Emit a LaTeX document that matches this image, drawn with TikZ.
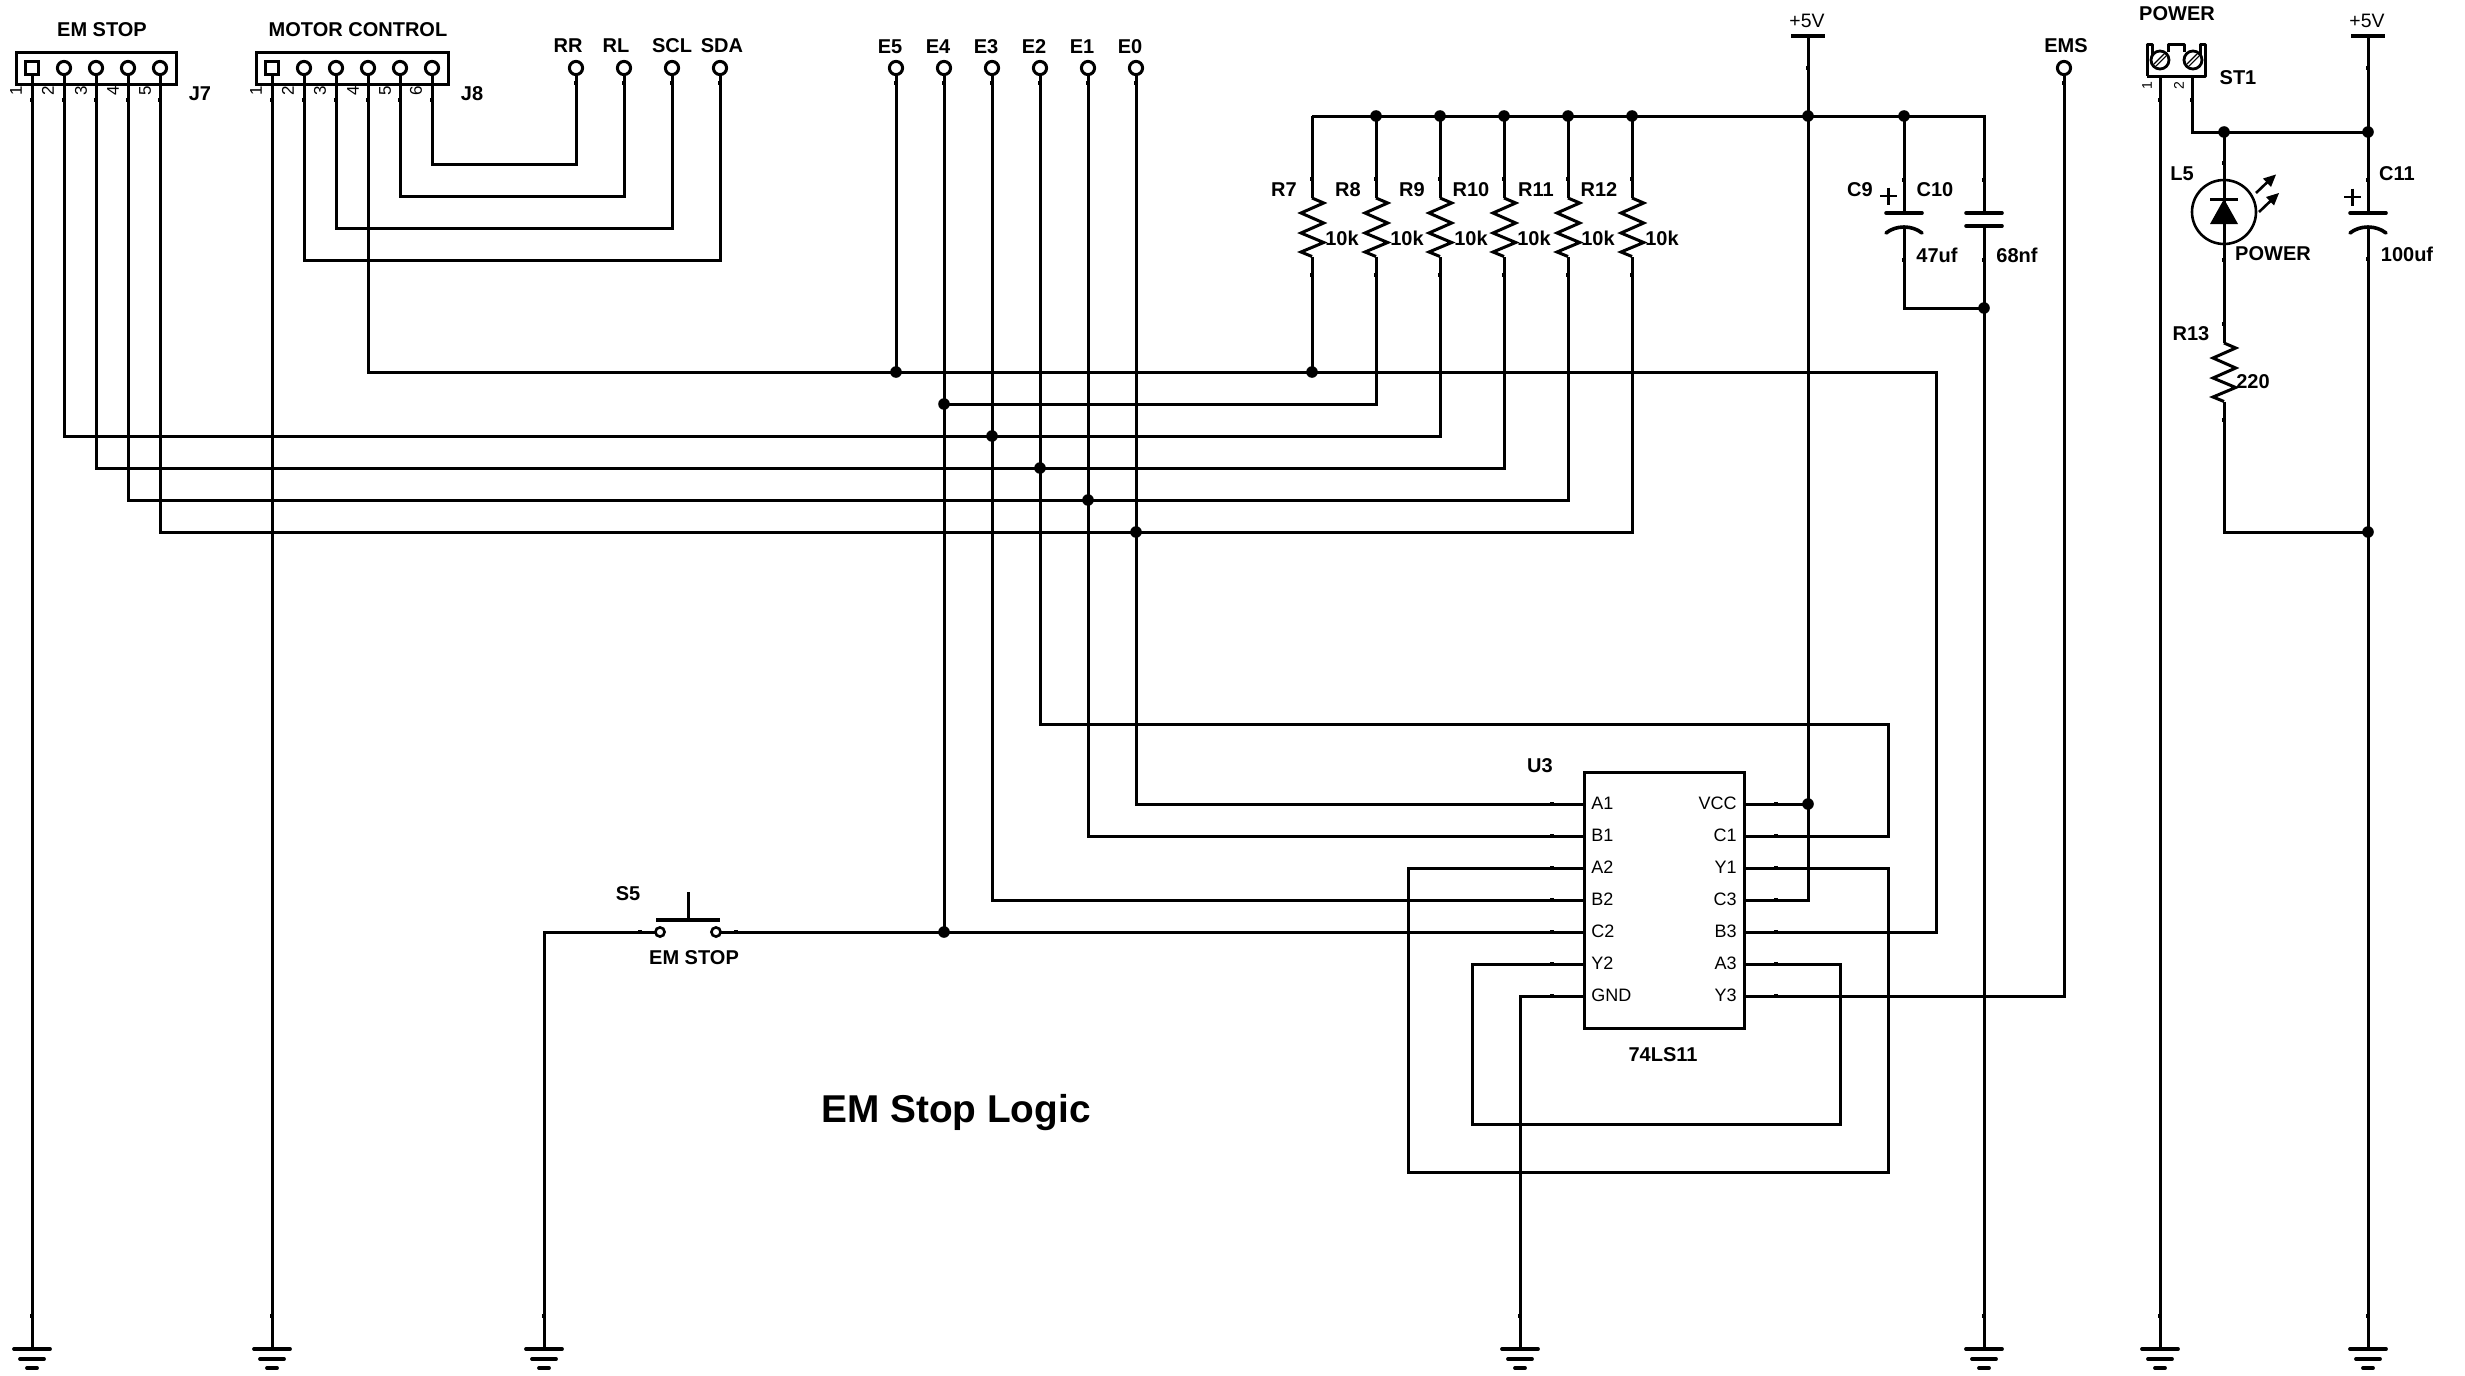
\documentclass[tikz,border=0pt]{standalone}
\usepackage{fontspec}
\setmainfont{Liberation Sans}
\begin{document}
\begin{tikzpicture}[x=0.5pt,y=-0.5pt,
  wire/.style={line width=1.5pt,line join=miter,line cap=butt},
  lb/.style={inner sep=0pt,font=\fontsize{10}{11}\selectfont\bfseries},
  rg/.style={inner sep=0pt,font=\fontsize{9}{10}\selectfont},
  pn/.style={inner sep=0pt,rotate=90,font=\fontsize{8.5}{9}\selectfont},
  pinc/.style={circle,draw,line width=1.5pt,fill=white,inner sep=0pt,minimum size=6.6pt},
  pins/.style={rectangle,draw,line width=1.5pt,fill=white,inner sep=0pt,minimum size=6.6pt},
  jd/.style={circle,fill=black,inner sep=0pt,minimum size=5.8pt},
  swc/.style={circle,draw,line width=1.3pt,fill=white,inner sep=0pt,minimum size=4.6pt},
  pics/gnd/.style={code={
    \draw[line width=1.9pt,line cap=round] (-18,0) -- (18,0);
    \draw[line width=1.9pt,line cap=round] (-12,10) -- (12,10);
    \draw[line width=1.9pt,line cap=round] (-5,19) -- (5,19);}},
  pics/zig/.style={code={
    \draw[wire] (0,0) -- (11.7,5) -- (-11,15) -- (11.7,25) -- (-11,35) -- (11.7,44.5) -- (-11,54) -- (0,58.5);}},
  pics/pcap/.style={code={
    \draw[line width=1.8pt,line cap=round] (-18,0) -- (18,0);
    \draw[line width=1.8pt,line cap=round] (-18,20) .. controls (-8,12) and (8,12) .. (18,20);}},
  pics/vcc/.style={code={\draw[line width=1.8pt] (-17,0) -- (17,0);}}
]
\useasboundingbox (0,0) rectangle (2465,1376);
% ---- coordinates ----
\foreach \n/\x in {1/32,2/64,3/96,4/128,5/160}{\coordinate (j\n) at (\x,68);}
\foreach \n/\x in {1/272,2/304,3/336,4/368,5/400,6/432}{\coordinate (k\n) at (\x,68);}
\foreach \n/\x in {7/1312,8/1376,9/1440,10/1504,11/1568,12/1632}{
  \coordinate (r\n t) at (\x,198);\coordinate (r\n b) at (\x,256.5);\coordinate (u\n) at (\x,116);}
\foreach \n/\x in {1/32,2/272,3/544,4/1520,5/1984,6/2160,7/2368}{\coordinate (g\n) at (\x,1349);}
\coordinate (n7) at (1312,372);\coordinate (n8) at (1376,404);\coordinate (n9) at (1440,436);
\coordinate (n10) at (1504,468);\coordinate (n11) at (1568,500);\coordinate (n12) at (1632,532);
\coordinate (tr) at (576,164);\coordinate (tl) at (624,196);\coordinate (ts) at (672,228);\coordinate (td) at (720,260);
\coordinate (e5j) at (896,372);\coordinate (e4j) at (944,404);\coordinate (e4k) at (944,932);
\coordinate (e3j) at (992,436);\coordinate (e2j) at (1040,468);\coordinate (e1j) at (1088,500);\coordinate (e0j) at (1136,532);
\foreach \n/\y in {a1/804,b1/836,a2/868,b2/900,c2/932,y2/964,gn/996}{\coordinate (L\n) at (1584,\y);}
\foreach \n/\y in {vc/804,c1/836,y1/868,c3/900,b3/932,a3/964,y3/996}{\coordinate (R\n) at (1744,\y);}
\coordinate (vtop) at (1808,36);\coordinate (vrail) at (1808,116);\coordinate (vj) at (1808,804);\coordinate (vc3) at (1808,900);
\coordinate (c9rail) at (1904,116);\coordinate (c9t) at (1904,213);\coordinate (c9b) at (1904,226);\coordinate (c9c) at (1904,308);
\coordinate (c10rail) at (1984,116);\coordinate (c10t) at (1984,213);\coordinate (c10b) at (1984,226);\coordinate (c10j) at (1984,308);
\coordinate (x2a) at (1888,724);\coordinate (x2b) at (1888,836);
\coordinate (y1a) at (1888,868);\coordinate (y1b) at (1888,1172);\coordinate (y1c) at (1408,1172);\coordinate (y1d) at (1408,868);
\coordinate (a3a) at (1840,964);\coordinate (a3b) at (1840,1124);\coordinate (a3c) at (1472,1124);\coordinate (a3d) at (1472,964);
\coordinate (y3a) at (2064,996);\coordinate (b3a) at (1936,932);\coordinate (b3b) at (1936,372);
\coordinate (gna) at (1520,996);\coordinate (swa) at (544,932);
\coordinate (st1) at (2160,76);\coordinate (st2) at (2192,76);\coordinate (st2a) at (2192,132);
\coordinate (pj1) at (2224,132);\coordinate (pj2) at (2368,132);\coordinate (p5v) at (2368,36);
\coordinate (c11t) at (2368,213);\coordinate (c11b) at (2368,226);
\coordinate (r13t) at (2224,343);\coordinate (r13b) at (2224,401.5);\coordinate (r13a) at (2224,532);\coordinate (pj3) at (2368,532);
% ---- connector housings ----
\draw[line width=1.5pt] (16,52) rectangle (176,84);
\draw[line width=1.5pt] (256,52) rectangle (448,84);
% ---- wires ----
\draw[wire] (j1) -- (g1);
\draw[wire] (j2) |- (n9) -- (r9b);
\draw[wire] (j3) |- (n10) -- (r10b);
\draw[wire] (j4) |- (n11) -- (r11b);
\draw[wire] (j5) |- (n12) -- (r12b);
\draw[wire] (k1) -- (g2);
\draw[wire] (k2) |- (td) -- (720,68);
\draw[wire] (k3) |- (ts) -- (672,68);
\draw[wire] (k5) |- (tl) -- (624,68);
\draw[wire] (k6) |- (tr) -- (576,68);
\draw[wire] (k4) |- (b3b) -- (b3a) -- (Rb3);
\draw[wire] (r7b) -- (n7);
\draw[wire] (r8b) -- (n8) -- (e4j);
\draw[wire] (896,68) -- (e5j);
\draw[wire] (944,68) -- (e4k);
\draw[wire] (992,68) |- (Lb2);
\draw[wire] (1040,68) |- (x2a) -- (x2b) -- (Rc1);
\draw[wire] (1088,68) |- (Lb1);
\draw[wire] (1136,68) |- (La1);
\foreach \n in {7,8,9,10,11,12}{\draw[wire] (u\n) -- (r\n t);}
\draw[wire] (u7) -- (c10rail) -- (c10t);
\draw[wire] (c9rail) -- (c9t);
\draw[wire] (c9b) -- (c9c) -- (c10j);
\draw[wire] (c10b) -- (g5);
\draw[wire] (vtop) -- (vc3) -- (Rc3);
\draw[wire] (Rvc) -- (vj);
\draw[wire] (Ry1) -- (y1a) -- (y1b) -- (y1c) -- (y1d) -- (La2);
\draw[wire] (Ra3) -- (a3a) -- (a3b) -- (a3c) -- (a3d) -- (Ly2);
\draw[wire] (Ry3) -- (y3a) -- (2064,68);
\draw[wire] (Lgn) -- (gna) -- (1520,1349);
\draw[wire] (Lc2) -- (716,932);
\draw[wire] (660,932) -- (swa) -- (g3);
\draw[wire] (st1) -- (g6);
\draw[wire] (st2) -- (st2a) -- (pj2);
\draw[wire] (p5v) -- (c11t);
\draw[wire] (c11b) -- (g7);
\draw[wire] (pj1) -- (r13t);
\draw[wire] (r13b) -- (r13a) -- (pj3);
% ---- components ----
\foreach \n in {7,8,9,10,11,12}{\pic at (r\n t) {zig};}
\pic at (r13t) {zig};
\pic at (c9t) {pcap};
\pic at (c11t) {pcap};
\draw[line width=1.8pt,line cap=round] (1966,213) -- (2002,213);
\draw[line width=1.8pt,line cap=round] (1966,226) -- (2002,226);
\pic at (vtop) {vcc};
\pic at (p5v) {vcc};
\draw[line width=1.1pt] (1880,196) -- (1897,196) (1888.5,187.5) -- (1888.5,204.5);
\draw[line width=1.1pt] (2344,197) -- (2361,197) (2352.5,188.5) -- (2352.5,205.5);
\foreach \n/\x in {1/32,2/272,3/544,4/1520,5/1984,6/2160,7/2368}{\pic at (g\n) {gnd};}
% IC
\draw[line width=1.5pt,fill=white] (1584,772) rectangle (1744,1028);
% LED
\draw[line width=1.3pt] (2224,212) circle (32);
\draw[line width=1.5pt] (2210,199) -- (2238,199);
\fill (2224,199) -- (2238,224) -- (2210,224) -- cycle;
\draw[line width=1.3pt] (2256,193) -- (2268,181.5);
\fill (2276,174.5) -- (2271,187) -- (2263,178.5) -- cycle;
\draw[line width=1.3pt] (2259,212) -- (2271,200.5);
\fill (2279,193) -- (2274,205.5) -- (2266,197) -- cycle;
% terminal block
\draw[line width=1.5pt,line join=round] (2147,76) -- (2147,44) -- (2152,44) -- (2152,56) (2147,76) -- (2205,76) -- (2205,44) -- (2200,44) -- (2200,56)
  (2168,52) -- (2168,44) -- (2184,44) -- (2184,52);
\foreach \x in {2160,2193}{
  \draw[line width=1.4pt,fill=white] (\x,60) circle (9);
  \draw[line width=2pt] (\x-5,65) -- (\x+5,55);
  \draw[line width=0.7pt,white] (\x-5,65) -- (\x+5,55);}
% switch
\draw[line width=1.6pt] (656,920) -- (720,920);
\draw[line width=1.5pt] (688,892) -- (688,920);
% ---- ticks ----
\foreach \x/\y in {32/100,64/100,96/100,128/100,160/100,272/100,304/100,336/100,368/100,400/100,432/100,
  576/83,624/83,672/83,720/83,896/83,944/83,992/83,1040/83,1088/83,1136/83,2064/83,
  1312/179,1376/179,1440/179,1504/179,1568/179,1632/179,1312/275,1376/275,1440/275,1504/275,1568/275,1632/275,
  1904/180,1904/260,1984/180,1984/260,2368/68,2368/180,2368/259,1808/68,2160/100,2192/100,2224/163,2224/260,2224/324,2224/420,
  32/1316,272/1316,544/1316,1520/1316,1984/1316,2160/1316,2368/1316}{
  \fill (\x-2.1,\y-2) rectangle (\x+2.1,\y+2);}
\foreach \x/\y in {1552/804,1552/836,1552/868,1552/900,1552/932,1552/964,1552/996,1776/804,1776/836,1776/868,1776/900,1776/932,1776/964,1776/996,640/932,736/932}{
  \fill (\x-2,\y-2.1) rectangle (\x+2,\y+2.1);}
% ---- pins ----
\node[pins] (pj1a) at (j1) {};
\foreach \n in {2,3,4,5}{\node[pinc] (pj\n a) at (j\n) {};}
\node[pins] (pk1a) at (k1) {};
\foreach \n in {2,3,4,5,6}{\node[pinc] (pk\n a) at (k\n) {};}
\foreach \n/\x in {rr/576,rl/624,scl/672,sda/720,e5/896,e4/944,e3/992,e2/1040,e1/1088,e0/1136,ems/2064}{\node[pinc] (\n) at (\x,68) {};}
\node[swc] (swl) at (660,932) {};
\node[swc] (swr) at (716,932) {};
% ---- junction dots ----
\foreach \c in {e5j,e4j,e4k,e3j,e2j,e1j,e0j,n7,u8,u9,u10,u11,u12,vrail,c9rail,c10j,vj,pj1,pj2,pj3}{\node[jd] (dot\c) at (\c) {};}
% ---- labels ----
\node[lb] (l1) at (102,30) {EM STOP};
\node[lb] (l2) at (358,30) {MOTOR CONTROL};
\node[lb] (l3) at (200,94) {J7};
\node[lb] (l4) at (472,94) {J8};
\foreach \t/\x in {1/16,2/48,3/81,4/113,5/145,1/256,2/288,3/320,4/353,5/385,6/416}{\node[pn] (p\t x\x) at (\x,91) {\t};}
\node[lb] (l5) at (568,46) {RR};
\node[lb] (l6) at (616,46) {RL};
\node[lb] (l7) at (672,46) {SCL};
\node[lb] (l8) at (722,46) {SDA};
\node[lb] (l9) at (890,47) {E5};
\node[lb] (l10) at (938,47) {E4};
\node[lb] (l11) at (986,47) {E3};
\node[lb] (l12) at (1034,47) {E2};
\node[lb] (l13) at (1082,47) {E1};
\node[lb] (l14) at (1130,47) {E0};
\node[lb] (l15) at (2066,46) {EMS};
\node[rg,font=\fontsize{9.7}{10}\selectfont] (l16) at (1807,21) {+5V};
\node[rg,font=\fontsize{9.7}{10}\selectfont] (l17) at (2367,21) {+5V};
\node[lb] (l18) at (2177,14) {POWER};
\node[lb] (l19) at (2238,78) {ST1};
\node[pn,font=\fontsize{7}{8}\selectfont] (l20) at (2147,86) {1};
\node[pn,font=\fontsize{7}{8}\selectfont] (l21) at (2179,86) {2};
\node[lb] (l22) at (2182,174) {L5};
\node[lb] (l23) at (2273,254) {POWER};
\node[lb] (l24) at (2191,334) {R13};
\node[lb] (l25) at (2253,382) {220};
\node[lb] (l26) at (2397,174) {C11};
\node[lb] (l27) at (2407,254) {100uf};
\node[lb] (l28) at (1284,190) {R7};
\node[lb] (l29) at (1348,190) {R8};
\node[lb] (l30) at (1412,190) {R9};
\node[lb] (l31) at (1471,190) {R10};
\node[lb] (l32) at (1536,190) {R11};
\node[lb] (l33) at (1599,190) {R12};
\foreach \n/\x in {a/1342,b/1407,c/1471,d/1534,e/1598,f/1662}{\node[lb] (k\n) at (\x,238) {10k};}
\node[lb] (l34) at (1860,190) {C9};
\node[lb] (l35) at (1935,190) {C10};
\node[lb] (l36) at (1937,255) {47uf};
\node[lb] (l37) at (2017,255) {68nf};
\node[lb] (l38) at (1540,766) {U3};
\node[lb] (l39) at (1663,1055) {74LS11};
\node[lb] (l40) at (628,894) {S5};
\node[lb] (l41) at (694,958) {EM STOP};
\node[lb,font=\fontsize{19.4}{21}\selectfont\bfseries] (l42) at (956,1113) {EM Stop Logic};
\foreach \t/\y in {A1/803,B1/835,A2/867,B2/899,C2/931,Y2/963,GND/995}{\node[rg,anchor=west] (i\t) at (1591,\y) {\t};}
\foreach \t/\y in {VCC/803,C1/835,Y1/867,C3/899,B3/931,A3/963,Y3/995}{\node[rg,anchor=east] (o\t) at (1737,\y) {\t};}
\end{tikzpicture}
\end{document}
